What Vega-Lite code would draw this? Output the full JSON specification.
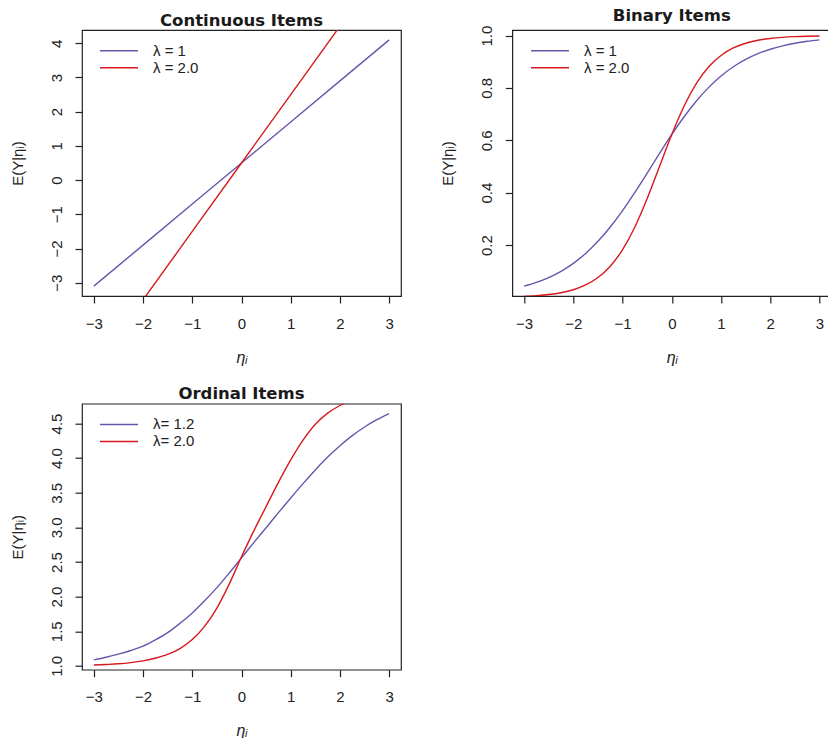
{
  "$schema": "https://vega.github.io/schema/vega-lite/v6.json",
  "padding": {"left": 9, "top": 7, "right": 0, "bottom": 0},
  "background": "white",
  "datasets": {
    "cont": [
      {"eta": -3, "y": -3.1, "lab": "λ = 1"}, {"eta": -2, "y": -1.9, "lab": "λ = 1"}, {"eta": -1, "y": -0.7, "lab": "λ = 1"}, {"eta": 0, "y": 0.5, "lab": "λ = 1"}, {"eta": 1, "y": 1.7, "lab": "λ = 1"}, {"eta": 2, "y": 2.9, "lab": "λ = 1"}, {"eta": 3, "y": 4.1, "lab": "λ = 1"},
      {"eta": -3, "y": -5.5, "lab": "λ = 2.0"}, {"eta": -2, "y": -3.5, "lab": "λ = 2.0"}, {"eta": -1, "y": -1.5, "lab": "λ = 2.0"}, {"eta": 0, "y": 0.5, "lab": "λ = 2.0"}, {"eta": 1, "y": 2.5, "lab": "λ = 2.0"}, {"eta": 2, "y": 4.5, "lab": "λ = 2.0"}, {"eta": 3, "y": 6.5, "lab": "λ = 2.0"}
    ],
    "bin": [
      {"eta": -3, "y": 0.0431, "lab": "λ = 1"}, {"eta": -2.75, "y": 0.05732, "lab": "λ = 1"}, {"eta": -2.5, "y": 0.07586, "lab": "λ = 1"}, {"eta": -2.25, "y": 0.09975, "lab": "λ = 1"}, {"eta": -2, "y": 0.13011, "lab": "λ = 1"}, {"eta": -1.75, "y": 0.16798, "lab": "λ = 1"}, {"eta": -1.5, "y": 0.21416, "lab": "λ = 1"}, {"eta": -1.25, "y": 0.26894, "lab": "λ = 1"}, {"eta": -1, "y": 0.33181, "lab": "λ = 1"}, {"eta": -0.75, "y": 0.40131, "lab": "λ = 1"}, {"eta": -0.5, "y": 0.47502, "lab": "λ = 1"}, {"eta": -0.25, "y": 0.54983, "lab": "λ = 1"}, {"eta": 0, "y": 0.62246, "lab": "λ = 1"}, {"eta": 0.25, "y": 0.68997, "lab": "λ = 1"}, {"eta": 0.5, "y": 0.75026, "lab": "λ = 1"}, {"eta": 0.75, "y": 0.80218, "lab": "λ = 1"}, {"eta": 1, "y": 0.84553, "lab": "λ = 1"}, {"eta": 1.25, "y": 0.8808, "lab": "λ = 1"}, {"eta": 1.5, "y": 0.90887, "lab": "λ = 1"}, {"eta": 1.75, "y": 0.93086, "lab": "λ = 1"}, {"eta": 2, "y": 0.94785, "lab": "λ = 1"}, {"eta": 2.25, "y": 0.96083, "lab": "λ = 1"}, {"eta": 2.5, "y": 0.97069, "lab": "λ = 1"}, {"eta": 2.75, "y": 0.97812, "lab": "λ = 1"}, {"eta": 3, "y": 0.9837, "lab": "λ = 1"},
      {"eta": -3, "y": 0.00407, "lab": "λ = 2.0"}, {"eta": -2.75, "y": 0.00669, "lab": "λ = 2.0"}, {"eta": -2.5, "y": 0.01099, "lab": "λ = 2.0"}, {"eta": -2.25, "y": 0.01799, "lab": "λ = 2.0"}, {"eta": -2, "y": 0.02931, "lab": "λ = 2.0"}, {"eta": -1.75, "y": 0.04743, "lab": "λ = 2.0"}, {"eta": -1.5, "y": 0.07586, "lab": "λ = 2.0"}, {"eta": -1.25, "y": 0.1192, "lab": "λ = 2.0"}, {"eta": -1, "y": 0.18243, "lab": "λ = 2.0"}, {"eta": -0.75, "y": 0.26894, "lab": "λ = 2.0"}, {"eta": -0.5, "y": 0.37754, "lab": "λ = 2.0"}, {"eta": -0.25, "y": 0.5, "lab": "λ = 2.0"}, {"eta": 0, "y": 0.62246, "lab": "λ = 2.0"}, {"eta": 0.25, "y": 0.73106, "lab": "λ = 2.0"}, {"eta": 0.5, "y": 0.81757, "lab": "λ = 2.0"}, {"eta": 0.75, "y": 0.8808, "lab": "λ = 2.0"}, {"eta": 1, "y": 0.92414, "lab": "λ = 2.0"}, {"eta": 1.25, "y": 0.95257, "lab": "λ = 2.0"}, {"eta": 1.5, "y": 0.97069, "lab": "λ = 2.0"}, {"eta": 1.75, "y": 0.98201, "lab": "λ = 2.0"}, {"eta": 2, "y": 0.98901, "lab": "λ = 2.0"}, {"eta": 2.25, "y": 0.99331, "lab": "λ = 2.0"}, {"eta": 2.5, "y": 0.99593, "lab": "λ = 2.0"}, {"eta": 2.75, "y": 0.99753, "lab": "λ = 2.0"}, {"eta": 3, "y": 0.9985, "lab": "λ = 2.0"}
    ],
    "ord": [
      {"eta": -3, "y": 1.087, "lab": "λ= 1.2"}, {"eta": -2.75, "y": 1.125, "lab": "λ= 1.2"}, {"eta": -2.5, "y": 1.17, "lab": "λ= 1.2"}, {"eta": -2.25, "y": 1.222, "lab": "λ= 1.2"}, {"eta": -2, "y": 1.285, "lab": "λ= 1.2"}, {"eta": -1.75, "y": 1.375, "lab": "λ= 1.2"}, {"eta": -1.5, "y": 1.48, "lab": "λ= 1.2"}, {"eta": -1.25, "y": 1.615, "lab": "λ= 1.2"}, {"eta": -1, "y": 1.765, "lab": "λ= 1.2"}, {"eta": -0.75, "y": 1.94, "lab": "λ= 1.2"}, {"eta": -0.5, "y": 2.13, "lab": "λ= 1.2"}, {"eta": -0.25, "y": 2.34, "lab": "λ= 1.2"}, {"eta": 0, "y": 2.56, "lab": "λ= 1.2"}, {"eta": 0.25, "y": 2.78, "lab": "λ= 1.2"}, {"eta": 0.5, "y": 2.995, "lab": "λ= 1.2"}, {"eta": 0.75, "y": 3.213, "lab": "λ= 1.2"}, {"eta": 1, "y": 3.425, "lab": "λ= 1.2"}, {"eta": 1.25, "y": 3.632, "lab": "λ= 1.2"}, {"eta": 1.5, "y": 3.83, "lab": "λ= 1.2"}, {"eta": 1.75, "y": 4.015, "lab": "λ= 1.2"}, {"eta": 2, "y": 4.18, "lab": "λ= 1.2"}, {"eta": 2.25, "y": 4.325, "lab": "λ= 1.2"}, {"eta": 2.5, "y": 4.45, "lab": "λ= 1.2"}, {"eta": 2.75, "y": 4.555, "lab": "λ= 1.2"}, {"eta": 3, "y": 4.644, "lab": "λ= 1.2"},
      {"eta": -3, "y": 1.012, "lab": "λ= 2.0"}, {"eta": -2.75, "y": 1.02, "lab": "λ= 2.0"}, {"eta": -2.5, "y": 1.03, "lab": "λ= 2.0"}, {"eta": -2.25, "y": 1.047, "lab": "λ= 2.0"}, {"eta": -2, "y": 1.072, "lab": "λ= 2.0"}, {"eta": -1.75, "y": 1.11, "lab": "λ= 2.0"}, {"eta": -1.5, "y": 1.165, "lab": "λ= 2.0"}, {"eta": -1.25, "y": 1.25, "lab": "λ= 2.0"}, {"eta": -1, "y": 1.38, "lab": "λ= 2.0"}, {"eta": -0.75, "y": 1.57, "lab": "λ= 2.0"}, {"eta": -0.5, "y": 1.835, "lab": "λ= 2.0"}, {"eta": -0.25, "y": 2.18, "lab": "λ= 2.0"}, {"eta": 0, "y": 2.575, "lab": "λ= 2.0"}, {"eta": 0.25, "y": 2.95, "lab": "λ= 2.0"}, {"eta": 0.5, "y": 3.3, "lab": "λ= 2.0"}, {"eta": 0.75, "y": 3.65, "lab": "λ= 2.0"}, {"eta": 1, "y": 3.975, "lab": "λ= 2.0"}, {"eta": 1.25, "y": 4.26, "lab": "λ= 2.0"}, {"eta": 1.5, "y": 4.49, "lab": "λ= 2.0"}, {"eta": 1.75, "y": 4.65, "lab": "λ= 2.0"}, {"eta": 2, "y": 4.76, "lab": "λ= 2.0"}, {"eta": 2.25, "y": 4.84, "lab": "λ= 2.0"}, {"eta": 2.5, "y": 4.9, "lab": "λ= 2.0"}, {"eta": 2.75, "y": 4.94, "lab": "λ= 2.0"}, {"eta": 3, "y": 4.965, "lab": "λ= 2.0"}
    ]
  },
  "vconcat": [
    {
      "hconcat": [
        {
          "title": "Continuous Items",
          "width": 319, "height": 266,
          "data": {"name": "cont"},
          "mark": {"type": "line", "clip": true, "strokeWidth": 1.4, "interpolate": "linear"},
          "encoding": {
            "x": {"field": "eta", "type": "quantitative", "scale": {"domain": [-3.24, 3.24], "nice": false, "zero": false}, "axis": {"values": [-3, -2, -1, 0, 1, 2, 3], "format": "d", "title": "ηᵢ"}},
            "y": {"field": "y", "type": "quantitative", "scale": {"domain": [-3.388, 4.388], "nice": false, "zero": false}, "axis": {"values": [-3, -2, -1, 0, 1, 2, 3, 4], "format": "d", "title": "E(Y|ηᵢ)"}},
            "color": {"field": "lab", "type": "nominal", "scale": {"domain": ["λ = 1", "λ = 2.0"], "range": ["#6a55ad", "#d7191f"]}, "legend": {"orient": "none", "legendX": 17, "legendY": 12.4, "title": null}}
          }
        },
        {
          "title": "Binary Items",
          "width": 319, "height": 266,
          "data": {"name": "bin"},
          "mark": {"type": "line", "clip": true, "strokeWidth": 1.4, "interpolate": "monotone"},
          "encoding": {
            "x": {"field": "eta", "type": "quantitative", "scale": {"domain": [-3.24, 3.24], "nice": false, "zero": false}, "axis": {"values": [-3, -2, -1, 0, 1, 2, 3], "format": "d", "title": "ηᵢ"}},
            "y": {"field": "y", "type": "quantitative", "scale": {"domain": [0.0054, 1.0213], "nice": false, "zero": false}, "axis": {"values": [0.2, 0.4, 0.6, 0.8, 1.0], "format": ".1f", "title": "E(Y|ηᵢ)"}},
            "color": {"field": "lab", "type": "nominal", "scale": {"domain": ["λ = 1", "λ = 2.0"], "range": ["#6a55ad", "#d7191f"]}, "legend": {"orient": "none", "legendX": 17.7, "legendY": 12.4, "title": null}}
          }
        }
      ],
      "spacing": 111.3,
      "bounds": "flush",
      "resolve": {"scale": {"color": "independent", "x": "independent", "y": "independent"}, "legend": {"color": "independent"}}
    },
    {
      "title": "Ordinal Items",
      "width": 319, "height": 266,
      "data": {"name": "ord"},
      "mark": {"type": "line", "clip": true, "strokeWidth": 1.4, "interpolate": "monotone"},
      "encoding": {
        "x": {"field": "eta", "type": "quantitative", "scale": {"domain": [-3.24, 3.24], "nice": false, "zero": false}, "axis": {"values": [-3, -2, -1, 0, 1, 2, 3], "format": "d", "title": "ηᵢ"}},
        "y": {"field": "y", "type": "quantitative", "scale": {"domain": [0.945, 4.786], "nice": false, "zero": false}, "axis": {"values": [1.0, 1.5, 2.0, 2.5, 3.0, 3.5, 4.0, 4.5], "format": ".1f", "title": "E(Y|ηᵢ)"}},
        "color": {"field": "lab", "type": "nominal", "scale": {"domain": ["λ= 1.2", "λ= 2.0"], "range": ["#6a55ad", "#d7191f"]}, "legend": {"orient": "none", "legendX": 17, "legendY": 12.4, "title": null}}
      }
    }
  ],
  "spacing": 18.7,
  "resolve": {"scale": {"color": "independent", "x": "independent", "y": "independent"}, "legend": {"color": "independent"}},
  "config": {
    "view": {"stroke": "#222", "strokeWidth": 1.2, "fill": "white"},
    "title": {"font": "DejaVu Sans", "fontSize": 16.5, "fontWeight": "bold", "color": "#1a1a1a", "anchor": "middle", "baseline": "alphabetic", "offset": 1, "frame": "group"},
    "axis": {"domain": false, "grid": false, "ticks": true, "tickSize": 7, "tickColor": "#222", "tickWidth": 1.2, "labelFont": "Liberation Sans", "labelFontSize": 15, "labelColor": "#222", "titleFont": "Liberation Sans", "titleFontSize": 15, "titleFontWeight": "normal", "titleColor": "#222", "labelFlush": false, "labelOverlap": false},
    "axisX": {"labelPadding": 13, "titlePadding": 18, "titleFontStyle": "italic", "titleFontSize": 16},
    "axisY": {"labelAngle": 270, "labelAlign": "center", "labelBaseline": "bottom", "labelPadding": 11, "titlePadding": 24},
    "legend": {"symbolType": "stroke", "symbolSize": 1444, "symbolStrokeWidth": 1.5, "labelFont": "Liberation Sans", "labelFontSize": 15, "labelColor": "#222", "labelOffset": 14, "clipHeight": 16.6, "rowPadding": 0, "padding": 0, "labelLimit": 300}
  }
}
